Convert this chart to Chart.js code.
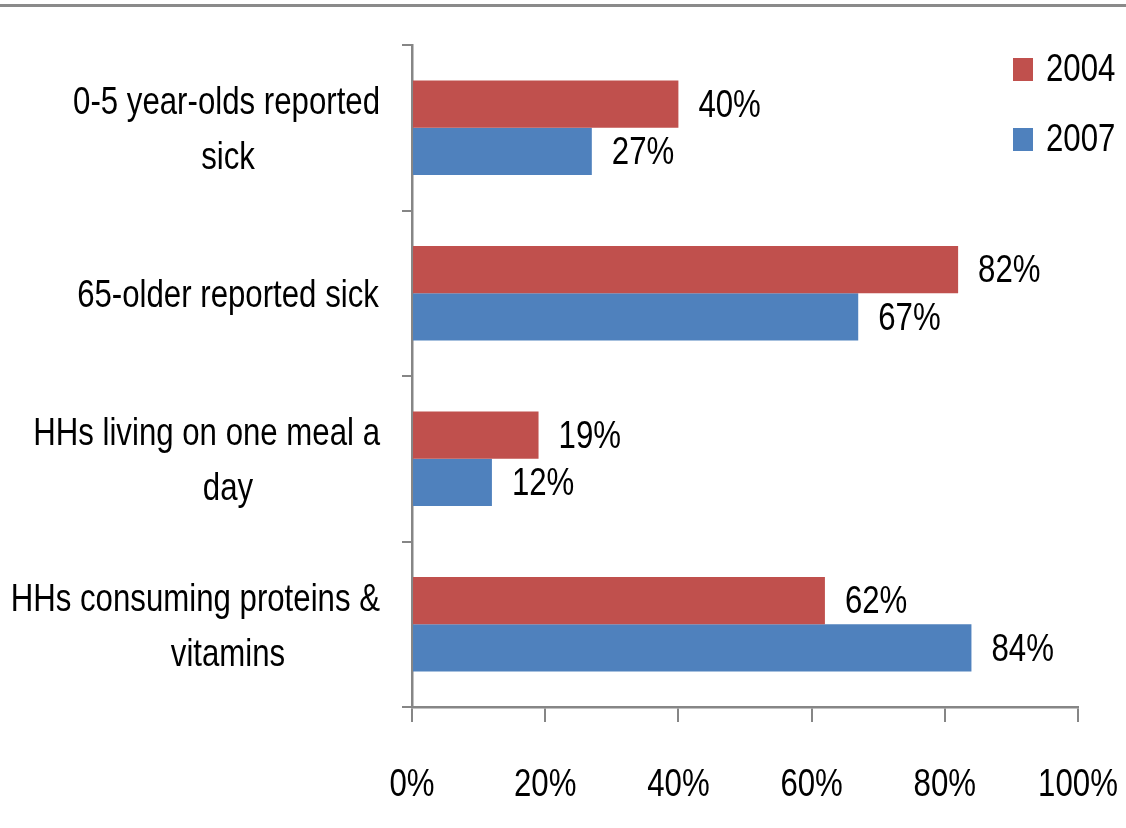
<!DOCTYPE html>
<html>
<head>
<meta charset="utf-8">
<script src="https://cdn.jsdelivr.net/npm/chart.js@4/dist/chart.umd.min.js"></script>
<style>
  html, body { margin: 0; padding: 0; background: #fff; }
  canvas { display: block; }
</style>
</head>
<body>
<canvas id="healthChart" width="1126" height="828"></canvas>
<script>
// chart data
const categories = [
  ["0-5 year-olds reported", "sick"],
  ["65-older reported sick"],
  ["HHs living on one meal a", "day"],
  ["HHs consuming proteins &", "vitamins"],
];
const seriesNames = ["2004", "2007"];
const values2004 = [40, 82, 19, 62];
const values2007 = [27, 67, 12, 84];
const tickValues = [0, 20, 40, 60, 80, 100];

const FONT = '"Liberation Sans", Arial, sans-serif';
const FONT_SIZE = 39;
const SQUEEZE = 0.8; // narrow look of the original font
const AXIS_GRAY = "#868686";

// draw text squeezed horizontally, anchored at x by align
function narrowText(ctx, text, x, y, align) {
  const w = ctx.measureText(text).width * SQUEEZE;
  let left = x;
  if (align === "center") left = x - w / 2;
  if (align === "right") left = x - w;
  ctx.save();
  ctx.translate(left, y);
  ctx.scale(SQUEEZE, 1);
  ctx.textAlign = "left";
  ctx.fillText(text, 0, 0);
  ctx.restore();
  return w;
}

// top border line + all texts + legend
const decorPlugin = {
  id: "decor",
  beforeDraw(chart) {
    const ctx = chart.ctx;
    ctx.save();
    ctx.fillStyle = "#8a8a8a";
    ctx.fillRect(0, 4, chart.width, 3);
    ctx.restore();
  },
  afterDraw(chart) {
    const ctx = chart.ctx;
    const xScale = chart.scales.x;
    const yScale = chart.scales.y;
    ctx.save();
    ctx.font = FONT_SIZE + "px " + FONT;
    ctx.fillStyle = "#000";
    ctx.textBaseline = "middle";

    // x tick labels
    tickValues.forEach((v) => {
      narrowText(ctx, v + "%", xScale.getPixelForValue(v), 785, "center");
    });

    // category labels, centred, but kept clear of the axis
    const centerX = 228;
    const rightLimit = yScale.right - 32;
    const lineGap = 55;
    categories.forEach((lines, i) => {
      const yc = yScale.getPixelForValue(i) + 2;
      lines.forEach((line, j) => {
        const w = ctx.measureText(line).width * SQUEEZE;
        const right = Math.min(centerX + w / 2, rightLimit);
        narrowText(ctx, line, right, yc + (j - (lines.length - 1) / 2) * lineGap + 1, "right");
      });
    });

    // value labels at bar ends
    chart.data.datasets.forEach((ds, di) => {
      const meta = chart.getDatasetMeta(di);
      meta.data.forEach((bar, i) => {
        narrowText(ctx, ds.data[i] + "%", bar.x + 20, bar.y + 2, "left");
      });
    });

    // legend
    chart.data.datasets.forEach((ds, di) => {
      const y = 69 + di * 70;
      ctx.fillStyle = ds.backgroundColor;
      ctx.fillRect(1013, y - 11, 20, 23);
      ctx.fillStyle = "#000";
      narrowText(ctx, ds.label, 1046, y + 1, "left");
    });
    ctx.restore();
  },
};

const chart = new Chart(document.getElementById("healthChart"), {
  type: "bar",
  data: {
    labels: categories,
    datasets: [
      {
        label: seriesNames[0],
        data: values2004,
        backgroundColor: "#C0504D",
        barPercentage: 1,
        categoryPercentage: 0.57,
      },
      {
        label: seriesNames[1],
        data: values2007,
        backgroundColor: "#4F81BD",
        barPercentage: 1,
        categoryPercentage: 0.57,
      },
    ],
  },
  options: {
    indexAxis: "y",
    responsive: false,
    animation: false,
    devicePixelRatio: 1,
    layout: {
      padding: { left: 402, right: 48, top: 45, bottom: 106 },
    },
    plugins: {
      legend: { display: false },
      tooltip: { enabled: false },
    },
    scales: {
      x: {
        min: 0,
        max: 100,
        afterBuildTicks(scale) {
          scale.ticks = tickValues.map((v) => ({ value: v }));
        },
        border: { display: true, color: AXIS_GRAY, width: 2.5 },
        grid: {
          drawOnChartArea: false,
          drawTicks: true,
          tickLength: 15,
          color: AXIS_GRAY,
          lineWidth: 2,
        },
        ticks: { display: false },
      },
      y: {
        border: { display: true, color: AXIS_GRAY, width: 2.5 },
        grid: {
          drawOnChartArea: false,
          drawTicks: true,
          tickLength: 10,
          color: AXIS_GRAY,
          lineWidth: 2,
        },
        ticks: { display: false },
      },
    },
  },
  plugins: [decorPlugin],
});
</script>
</body>
</html>
